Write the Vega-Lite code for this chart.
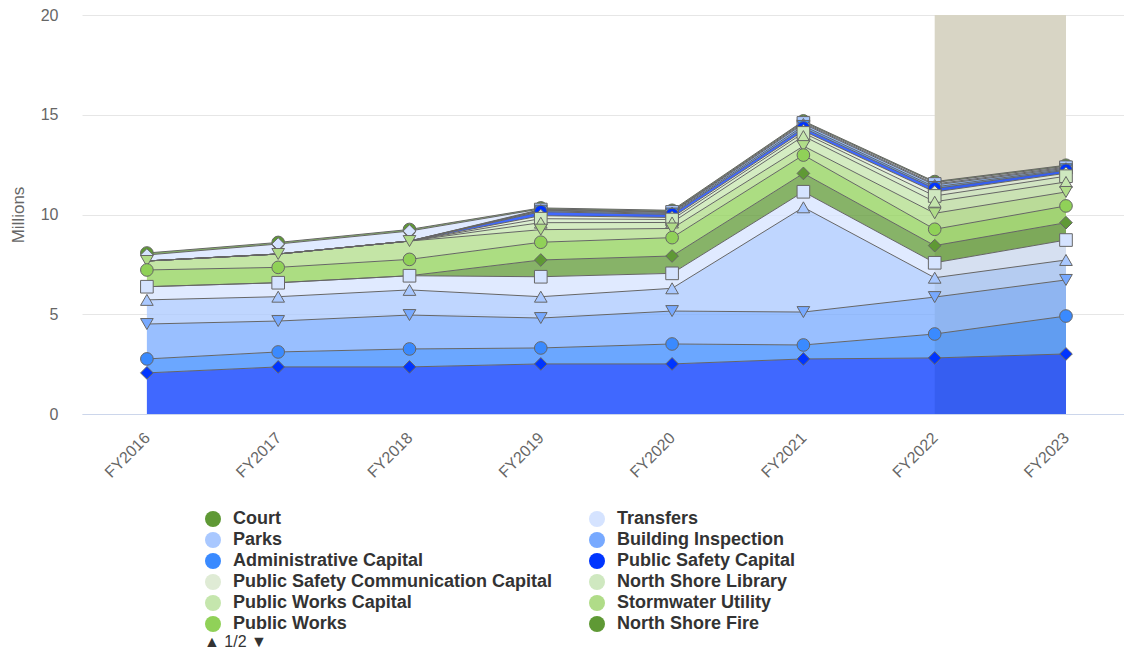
{
  "$schema": "https://vega.github.io/schema/vega-lite/v6.json",
  "width": 1042,
  "height": 399,
  "autosize": "none",
  "padding": {"left": 82, "top": 15, "right": 0, "bottom": 235},
  "background": "white",
  "config": {
    "view": {"stroke": null},
    "font": "Liberation Sans"
  },
  "datasets": {
    "main": [
      {"fy":"FY2016","s":"Court","k":0,"v":0.10},{"fy":"FY2017","s":"Court","k":0,"v":0.08},{"fy":"FY2018","s":"Court","k":0,"v":0.08},{"fy":"FY2019","s":"Court","k":0,"v":0.05},{"fy":"FY2020","s":"Court","k":0,"v":0.05},{"fy":"FY2021","s":"Court","k":0,"v":0.05},{"fy":"FY2022","s":"Court","k":0,"v":0.05},{"fy":"FY2023","s":"Court","k":0,"v":0.05},
      {"fy":"FY2016","s":"Transfers","k":1,"v":0.30},{"fy":"FY2017","s":"Transfers","k":1,"v":0.50},{"fy":"FY2018","s":"Transfers","k":1,"v":0.50},{"fy":"FY2019","s":"Transfers","k":1,"v":0.03},{"fy":"FY2020","s":"Transfers","k":1,"v":0.03},{"fy":"FY2021","s":"Transfers","k":1,"v":0.05},{"fy":"FY2022","s":"Transfers","k":1,"v":0.07},{"fy":"FY2023","s":"Transfers","k":1,"v":0.05},
      {"fy":"FY2016","s":"Parks","k":2,"v":0},{"fy":"FY2017","s":"Parks","k":2,"v":0},{"fy":"FY2018","s":"Parks","k":2,"v":0},{"fy":"FY2019","s":"Parks","k":2,"v":0.03},{"fy":"FY2020","s":"Parks","k":2,"v":0.03},{"fy":"FY2021","s":"Parks","k":2,"v":0.05},{"fy":"FY2022","s":"Parks","k":2,"v":0.05},{"fy":"FY2023","s":"Parks","k":2,"v":0.05},
      {"fy":"FY2016","s":"Building Inspection","k":3,"v":0},{"fy":"FY2017","s":"Building Inspection","k":3,"v":0},{"fy":"FY2018","s":"Building Inspection","k":3,"v":0},{"fy":"FY2019","s":"Building Inspection","k":3,"v":0.03},{"fy":"FY2020","s":"Building Inspection","k":3,"v":0.05},{"fy":"FY2021","s":"Building Inspection","k":3,"v":0.10},{"fy":"FY2022","s":"Building Inspection","k":3,"v":0.10},{"fy":"FY2023","s":"Building Inspection","k":3,"v":0.05},
      {"fy":"FY2016","s":"Administrative Capital","k":4,"v":0},{"fy":"FY2017","s":"Administrative Capital","k":4,"v":0},{"fy":"FY2018","s":"Administrative Capital","k":4,"v":0},{"fy":"FY2019","s":"Administrative Capital","k":4,"v":0.05},{"fy":"FY2020","s":"Administrative Capital","k":4,"v":0.05},{"fy":"FY2021","s":"Administrative Capital","k":4,"v":0.10},{"fy":"FY2022","s":"Administrative Capital","k":4,"v":0.08},{"fy":"FY2023","s":"Administrative Capital","k":4,"v":0.05},
      {"fy":"FY2016","s":"Public Safety Capital","k":5,"v":0},{"fy":"FY2017","s":"Public Safety Capital","k":5,"v":0},{"fy":"FY2018","s":"Public Safety Capital","k":5,"v":0},{"fy":"FY2019","s":"Public Safety Capital","k":5,"v":0.20},{"fy":"FY2020","s":"Public Safety Capital","k":5,"v":0.15},{"fy":"FY2021","s":"Public Safety Capital","k":5,"v":0.15},{"fy":"FY2022","s":"Public Safety Capital","k":5,"v":0.17},{"fy":"FY2023","s":"Public Safety Capital","k":5,"v":0.15},
      {"fy":"FY2016","s":"Public Safety Communication Capital","k":6,"v":0},{"fy":"FY2017","s":"Public Safety Communication Capital","k":6,"v":0},{"fy":"FY2018","s":"Public Safety Communication Capital","k":6,"v":0},{"fy":"FY2019","s":"Public Safety Communication Capital","k":6,"v":0.15},{"fy":"FY2020","s":"Public Safety Communication Capital","k":6,"v":0.10},{"fy":"FY2021","s":"Public Safety Communication Capital","k":6,"v":0.10},{"fy":"FY2022","s":"Public Safety Communication Capital","k":6,"v":0.20},{"fy":"FY2023","s":"Public Safety Communication Capital","k":6,"v":0.15},
      {"fy":"FY2016","s":"North Shore Library","k":7,"v":0},{"fy":"FY2017","s":"North Shore Library","k":7,"v":0},{"fy":"FY2018","s":"North Shore Library","k":7,"v":0},{"fy":"FY2019","s":"North Shore Library","k":7,"v":0.20},{"fy":"FY2020","s":"North Shore Library","k":7,"v":0.15},{"fy":"FY2021","s":"North Shore Library","k":7,"v":0.16},{"fy":"FY2022","s":"North Shore Library","k":7,"v":0.29},{"fy":"FY2023","s":"North Shore Library","k":7,"v":0.29},
      {"fy":"FY2016","s":"Public Works Capital","k":8,"v":0},{"fy":"FY2017","s":"Public Works Capital","k":8,"v":0},{"fy":"FY2018","s":"Public Works Capital","k":8,"v":0},{"fy":"FY2019","s":"Public Works Capital","k":8,"v":0.35},{"fy":"FY2020","s":"Public Works Capital","k":8,"v":0.30},{"fy":"FY2021","s":"Public Works Capital","k":8,"v":0.50},{"fy":"FY2022","s":"Public Works Capital","k":8,"v":0.58},{"fy":"FY2023","s":"Public Works Capital","k":8,"v":0.50},
      {"fy":"FY2016","s":"Stormwater Utility","k":9,"v":0.45},{"fy":"FY2017","s":"Stormwater Utility","k":9,"v":0.67},{"fy":"FY2018","s":"Stormwater Utility","k":9,"v":0.92},{"fy":"FY2019","s":"Stormwater Utility","k":9,"v":0.63},{"fy":"FY2020","s":"Stormwater Utility","k":9,"v":0.46},{"fy":"FY2021","s":"Stormwater Utility","k":9,"v":0.45},{"fy":"FY2022","s":"Stormwater Utility","k":9,"v":0.80},{"fy":"FY2023","s":"Stormwater Utility","k":9,"v":0.70},
      {"fy":"FY2016","s":"Public Works","k":10,"v":0.84},{"fy":"FY2017","s":"Public Works","k":10,"v":0.77},{"fy":"FY2018","s":"Public Works","k":10,"v":0.82},{"fy":"FY2019","s":"Public Works","k":10,"v":0.89},{"fy":"FY2020","s":"Public Works","k":10,"v":0.92},{"fy":"FY2021","s":"Public Works","k":10,"v":0.92},{"fy":"FY2022","s":"Public Works","k":10,"v":0.82},{"fy":"FY2023","s":"Public Works","k":10,"v":0.84},
      {"fy":"FY2016","s":"North Shore Fire","k":11,"v":0},{"fy":"FY2017","s":"North Shore Fire","k":11,"v":0},{"fy":"FY2018","s":"North Shore Fire","k":11,"v":0},{"fy":"FY2019","s":"North Shore Fire","k":11,"v":0.84},{"fy":"FY2020","s":"North Shore Fire","k":11,"v":0.87},{"fy":"FY2021","s":"North Shore Fire","k":11,"v":0.92},{"fy":"FY2022","s":"North Shore Fire","k":11,"v":0.86},{"fy":"FY2023","s":"North Shore Fire","k":11,"v":0.87},
      {"fy":"FY2016","s":"Series 13","k":12,"v":0.66},{"fy":"FY2017","s":"Series 13","k":12,"v":0.70},{"fy":"FY2018","s":"Series 13","k":12,"v":0.71},{"fy":"FY2019","s":"Series 13","k":12,"v":1.00},{"fy":"FY2020","s":"Series 13","k":12,"v":0.75},{"fy":"FY2021","s":"Series 13","k":12,"v":0.78},{"fy":"FY2022","s":"Series 13","k":12,"v":0.75},{"fy":"FY2023","s":"Series 13","k":12,"v":1.00},
      {"fy":"FY2016","s":"Series 14","k":13,"v":1.21},{"fy":"FY2017","s":"Series 14","k":13,"v":1.22},{"fy":"FY2018","s":"Series 14","k":13,"v":1.26},{"fy":"FY2019","s":"Series 14","k":13,"v":1.07},{"fy":"FY2020","s":"Series 14","k":13,"v":1.14},{"fy":"FY2021","s":"Series 14","k":13,"v":5.25},{"fy":"FY2022","s":"Series 14","k":13,"v":0.97},{"fy":"FY2023","s":"Series 14","k":13,"v":1.00},
      {"fy":"FY2016","s":"Series 15","k":14,"v":1.75},{"fy":"FY2017","s":"Series 15","k":14,"v":1.55},{"fy":"FY2018","s":"Series 15","k":14,"v":1.70},{"fy":"FY2019","s":"Series 15","k":14,"v":1.50},{"fy":"FY2020","s":"Series 15","k":14,"v":1.65},{"fy":"FY2021","s":"Series 15","k":14,"v":1.65},{"fy":"FY2022","s":"Series 15","k":14,"v":1.85},{"fy":"FY2023","s":"Series 15","k":14,"v":1.81},
      {"fy":"FY2016","s":"Series 16","k":15,"v":0.70},{"fy":"FY2017","s":"Series 16","k":15,"v":0.75},{"fy":"FY2018","s":"Series 16","k":15,"v":0.90},{"fy":"FY2019","s":"Series 16","k":15,"v":0.80},{"fy":"FY2020","s":"Series 16","k":15,"v":1.00},{"fy":"FY2021","s":"Series 16","k":15,"v":0.70},{"fy":"FY2022","s":"Series 16","k":15,"v":1.20},{"fy":"FY2023","s":"Series 16","k":15,"v":1.90},
      {"fy":"FY2016","s":"Series 17","k":16,"v":2.06},{"fy":"FY2017","s":"Series 17","k":16,"v":2.36},{"fy":"FY2018","s":"Series 17","k":16,"v":2.36},{"fy":"FY2019","s":"Series 17","k":16,"v":2.51},{"fy":"FY2020","s":"Series 17","k":16,"v":2.51},{"fy":"FY2021","s":"Series 17","k":16,"v":2.76},{"fy":"FY2022","s":"Series 17","k":16,"v":2.81},{"fy":"FY2023","s":"Series 17","k":16,"v":3.01}
    ],
    "band": [
      {"fy":"FY2022","top":20},{"fy":"FY2023","top":20}
    ]
  },
  "encoding": {
    "x": {
      "field": "fy", "type": "ordinal", "title": null,
      "scale": {"type": "point", "domain": ["FY2016","FY2017","FY2018","FY2019","FY2020","FY2021","FY2022","FY2023"], "padding": 0.468, "align": 0.528},
      "axis": {"labelAngle": -45, "labelAlign": "right", "labelBaseline": "middle", "labelPadding": 21, "labelFontSize": 16, "labelColor": "#666666", "labelFont": "Liberation Sans", "domainColor": "#ccd6eb", "domainWidth": 1, "ticks": false, "grid": false}
    }
  },
  "layer": [
    {
      "data": {"name": "band"},
      "mark": {"type": "area", "color": "#d8d5c5", "opacity": 1},
      "encoding": {
        "y": {"field": "top", "type": "quantitative", "title": "Millions",
          "scale": {"domain": [0, 20], "nice": false},
          "axis": {"values": [0,5,10,15,20], "grid": true, "gridColor": "#e6e6e6", "domain": false, "ticks": false, "tickSize": 0, "labelPadding": 24, "labelFontSize": 16, "labelColor": "#666666", "labelFont": "Liberation Sans", "titleColor": "#666666", "titleFontSize": 17, "titleFontWeight": "normal", "titleFont": "Liberation Sans", "titleX": -64, "titleY": 199.5, "titleAngle": -90, "titleAlign": "center", "titleBaseline": "middle"}
        }
      }
    },
    {
      "data": {"name": "main"},
      "mark": {"type": "area", "fillOpacity": 0.75, "strokeWidth": 0},
      "encoding": {
        "y": {"field": "v", "type": "quantitative", "stack": "zero", "title": "Millions"},
        "color": {"field": "s", "type": "nominal",
          "scale": {
            "domain": ["Court","Transfers","Parks","Building Inspection","Administrative Capital","Public Safety Capital","Public Safety Communication Capital","North Shore Library","Public Works Capital","Stormwater Utility","Public Works","North Shore Fire","Series 13","Series 14","Series 15","Series 16","Series 17"],
            "range": ["#5f9935","#d5e3ff","#a9c8ff","#77a9ff","#3a8aff","#0035ff","#dfebd5","#cfe8c0","#c5e6ad","#b0dc88","#90d158","#5f9935","#d5e3ff","#a9c8ff","#77a9ff","#3a8aff","#0035ff"]
          },
          "legend": {
            "values": ["Court","Transfers","Parks","Building Inspection","Administrative Capital","Public Safety Capital","Public Safety Communication Capital","North Shore Library","Public Works Capital","Stormwater Utility","Public Works","North Shore Fire"],
            "orient": "none", "legendX": 122, "legendY": 495, "columns": 2, "direction": "horizontal", "padding": 0,
            "symbolType": "circle", "symbolSize": 256, "symbolStrokeWidth": 0, "symbolOpacity": 1,
            "labelFontSize": 18, "labelFontWeight": "bold", "labelColor": "#333333", "labelFont": "Liberation Sans", "labelLimit": 500,
            "labelOffset": 11, "rowPadding": 3, "columnPadding": 35,
            "title": "▲ 1/2 ▼", "titleOrient": "bottom", "titleAnchor": "start", "titleFontSize": 16, "titleFontWeight": "normal", "titleColor": "#333333", "titleFont": "Liberation Sans", "titlePadding": 1
          }
        },
        "order": {"field": "k", "type": "quantitative", "sort": "descending"}
      }
    },
    {
      "data": {"name": "main"},
      "mark": {"type": "line", "strokeWidth": 1},
      "encoding": {
        "y": {"field": "v", "type": "quantitative", "stack": "zero", "title": "Millions"},
        "detail": {"field": "s", "type": "nominal"},
        "stroke": {"value": "#666666"},
        "order": {"field": "k", "type": "quantitative", "sort": "descending"}
      }
    },
    {
      "data": {"name": "main"},
      "transform": [{"filter": "datum.v > 0"}],
      "mark": {"type": "point", "filled": true, "size": 160, "stroke": "#666666", "strokeWidth": 1, "opacity": 1},
      "encoding": {
        "y": {"field": "v", "type": "quantitative", "stack": "zero", "title": "Millions"},
        "color": {"field": "s", "type": "nominal", "legend": null},
        "shape": {"field": "k", "type": "nominal", "legend": null,
          "scale": {
            "domain": [0,1,2,3,4,5,6,7,8,9,10,11,12,13,14,15,16],
            "range": ["circle","diamond","square","triangle-up","triangle-down","circle","diamond","square","triangle-up","triangle-down","circle","diamond","square","triangle-up","triangle-down","circle","diamond"]
          }
        },
        "order": {"field": "k", "type": "quantitative", "sort": "descending"}
      }
    }
  ]
}
